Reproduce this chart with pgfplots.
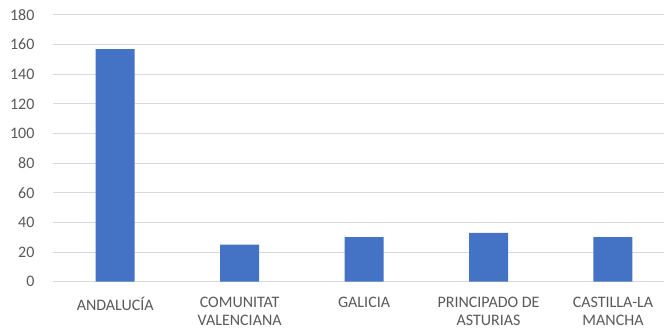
\documentclass[border=0pt]{standalone}
\usepackage{fontspec}
\setmainfont{Carlito}
\usepackage{pgfplots}
\pgfplotsset{compat=1.18}
\definecolor{barblue}{HTML}{4472C4}
\definecolor{gridgray}{HTML}{D9D9D9}
\definecolor{labelgray}{HTML}{595959}
\begin{document}
\begin{tikzpicture}
\path[use as bounding box] (0,0) rectangle (664pt,329pt);
\clip (0,0) rectangle (664pt,329pt);
\begin{axis}[
  at={(53pt,47.3pt)}, anchor=south west,
  scale only axis, width=611pt, height=266.7pt,
  xmin=-0.5, xmax=4.41, ymin=0, ymax=180,
  ytick={0,20,...,180},
  xtick={0,1,2,3,4},
  xticklabels={ANDALUCÍA,{COMUNITAT\\VALENCIANA},GALICIA,{PRINCIPADO DE\\ASTURIAS},{CASTILLA-LA\\MANCHA}},
  axis line style={draw=none},
  major tick length=0pt,
  ymajorgrids, grid style={gridgray, line width=1pt},
  /pgf/number format/assume math mode=true,
  tick label style={labelgray, font=\fontsize{16}{17.7}\selectfont},
  yticklabel style={xshift=-15pt},
  xticklabel style={align=center, yshift=-12pt},
  ybar, bar width=39pt,
]
\addplot[fill=barblue, draw=none] coordinates {(0,157) (1,25) (2,30) (3,33) (4,30)};
\end{axis}
\end{tikzpicture}
\end{document}
